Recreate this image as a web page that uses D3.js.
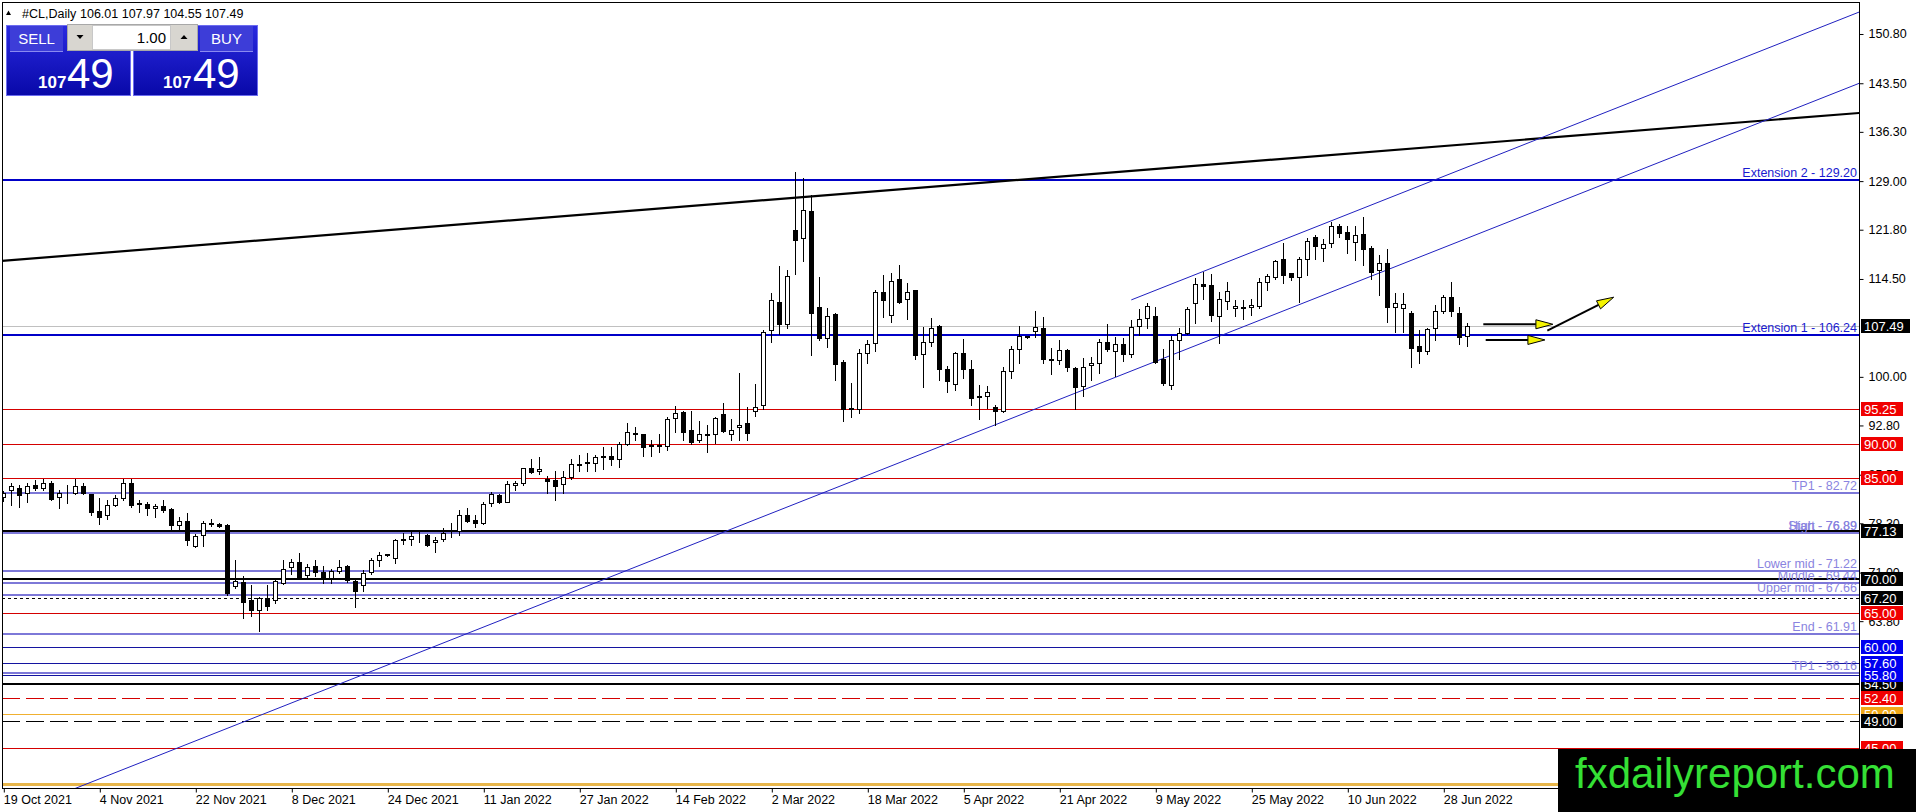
<!DOCTYPE html>
<html>
<head>
<meta charset="utf-8">
<script src="https://cdn.jsdelivr.net/npm/d3@7"></script>
<style>
  body { margin: 0; background: #fff; overflow: hidden; }
  svg { display: block; }
  text { font-family: "Liberation Sans", Arial, sans-serif; }
</style>
</head>
<body>
<svg width="1916" height="812"></svg>
<script>
// daily bars, 19 Oct 2021 .. 1 Jul 2022 (bar index = position)
var opens = [82.16,83.25,83.5,82.85,84.0,83.6,84.3,82.2,82.9,82.85,83.84,82.65,80.1,79.5,81.0,82.0,84.3,81.3,81.2,80.5,
  80.9,80.4,78.1,78.6,74.9,76.6,78.2,78.2,78.1,69.0,69.6,67.0,65.4,67.3,66.9,69.5,71.8,72.5,70.65,72.0,
  71.1,70.2,71.3,71.9,69.8,69.2,71.1,72.9,73.6,73.1,75.8,75.9,76.5,76.6,75.6,75.9,76.8,77.1,79.5,78.8,
  78.3,81.3,82.5,81.5,84.0,84.2,86.45,86.06,84.8,84.7,84.1,85.1,87.0,87.2,87.3,88.3,88.3,87.9,90.06,91.7,
  91.5,89.9,89.7,89.8,93.9,94.85,92.1,90.65,91.4,91.6,94.5,91.6,92.6,93.1,95.0,95.9,107.0,111.15,107.9,121.8,
  120.5,124.6,110.4,105.8,109.3,102.2,95.3,95.2,103.5,105.0,112.6,109.2,114.45,111.6,112.8,103.4,105.2,107.5,101.1,99.0,
  103.6,101.1,97.2,97.1,95.5,95.0,100.9,104.1,106.0,106.85,107.3,102.7,102.5,104.0,101.3,98.65,101.7,102.0,105.1,103.9,
  104.9,103.4,107.5,108.7,109.0,102.6,98.8,105.4,106.55,110.9,113.7,113.6,109.0,111.2,110.2,110.3,110.3,110.5,114.1,114.85,
  117.4,115.35,114.75,117.4,120.7,119.05,119.8,122.4,121.4,120.0,121.2,119.05,115.8,116.9,110.3,110.2,109.5,104.5,103.9,107.2,
  109.8,111.8,109.5,106.01];
var highs = [83.15,84.24,84.0,84.2,84.7,84.9,84.5,83.2,84.0,84.9,84.2,82.7,82.0,81.8,82.5,84.9,84.9,81.8,81.4,81.2,
  81.8,80.5,79.3,79.8,76.7,78.6,79.0,78.3,78.2,72.9,70.5,69.2,67.4,69.2,69.9,72.9,72.97,73.9,72.3,72.9,
  71.9,71.5,72.9,72.1,70.1,71.4,73.1,74.0,73.8,75.9,76.9,77.3,77.3,76.7,76.3,77.6,78.4,80.2,80.5,79.5,
  81.5,83.0,82.7,84.5,84.6,86.5,87.8,88.1,85.3,86.1,86.0,87.8,88.4,88.7,88.4,89.6,89.6,90.4,93.2,92.5,
  91.6,90.6,91.6,94.1,95.7,95.0,95.0,93.4,92.9,94.0,96.1,93.7,100.5,95.6,98.9,106.9,112.4,116.4,115.9,130.4,
  129.4,126.9,114.8,110.2,109.4,102.5,99.1,104.1,105.5,112.9,115.1,115.4,116.6,113.9,112.9,107.4,108.7,107.7,101.6,103.7,
  105.6,102.5,98.8,98.7,95.8,101.4,104.5,107.5,106.1,109.8,108.9,104.2,105.4,104.1,101.5,102.75,103.0,105.6,107.9,105.9,
  105.7,108.4,110.0,111.0,110.4,104.1,106.1,107.2,110.4,114.6,115.6,115.2,112.5,114.0,111.4,111.4,111.5,114.6,115.2,117.3,
  119.9,115.4,117.7,120.5,121.0,120.4,123.0,122.7,122.4,122.3,123.7,119.4,118.1,118.9,112.4,112.4,109.7,106.9,107.2,110.7,
  112.1,114.1,110.3,107.97];
var lows = [81.67,81.03,80.7,81.5,83.2,83.2,81.8,80.5,81.3,82.7,82.6,79.5,78.2,78.9,80.8,81.8,80.7,80.0,79.5,79.2,
  80.0,77.4,77.3,75.1,74.8,74.9,77.9,77.8,67.7,68.7,64.2,64.6,62.3,65.4,66.5,69.3,70.8,70.3,70.0,70.5,
  69.5,69.5,70.9,69.66,65.9,68.3,70.8,72.0,73.5,72.4,75.3,75.1,75.6,74.9,74.1,75.7,76.3,76.6,78.5,77.7,
  78.2,80.9,81.3,81.4,83.3,84.0,85.7,85.6,82.8,81.7,82.75,84.8,86.0,86.0,86.1,86.3,86.9,86.6,89.9,90.6,
  88.3,88.2,88.9,89.1,91.9,90.6,90.05,90.3,88.8,90.2,91.9,90.6,90.6,90.6,94.2,95.3,105.1,106.4,107.2,115.3,
  117.1,103.2,105.5,104.4,99.5,93.4,94.1,94.6,102.1,103.9,108.8,108.2,111.0,108.5,102.7,98.5,104.6,99.5,97.7,98.0,
  99.8,95.8,93.7,95.4,92.9,94.85,99.8,102.0,105.8,105.9,102.0,100.4,101.9,100.9,95.2,97.1,99.6,100.6,103.9,100.1,
  102.3,103.0,106.2,107.2,102.0,98.8,98.2,102.6,106.35,108.0,111.6,108.3,105.0,110.1,109.0,108.5,109.2,110.2,112.9,114.5,
  113.9,114.4,111.1,115.1,117.4,117.1,119.2,120.7,118.3,117.3,116.6,114.5,112.1,108.2,106.6,106.7,101.4,102.1,103.4,105.5,
  109.5,109.0,104.9,104.55];
var closes = [82.76,83.84,82.5,83.84,83.6,84.3,81.9,82.85,83.0,83.84,82.75,80.0,79.2,81.0,82.0,84.3,81.0,81.1,80.5,80.9,
  80.3,78.1,78.7,75.8,76.4,78.3,78.4,77.9,68.0,69.8,66.7,65.5,67.2,66.0,69.8,71.6,72.6,70.4,71.8,71.1,
  70.0,71.3,71.8,69.9,68.3,71.0,72.9,73.6,73.7,75.8,75.9,76.4,76.6,75.1,75.8,76.8,76.9,79.5,78.7,78.3,
  81.2,82.6,81.5,84.1,84.2,86.45,85.96,86.35,84.6,83.8,85.1,87.05,87.1,87.4,88.1,88.1,87.8,90.06,91.8,91.5,
  89.6,89.7,89.9,93.7,94.7,91.9,90.4,91.5,91.6,93.9,92.0,92.1,92.9,91.7,95.6,106.7,111.4,107.9,115.0,120.3,
  124.7,109.4,105.7,109.0,101.9,95.2,95.4,103.6,104.9,112.5,111.4,114.2,111.1,112.5,103.2,105.1,107.3,101.1,99.4,103.5,
  101.1,96.8,97.0,97.7,95.0,100.8,104.1,106.1,105.9,107.4,102.6,102.5,104.0,101.5,98.5,101.5,102.0,105.1,104.1,104.9,
  103.4,107.4,108.5,110.5,102.25,99.15,105.5,106.45,110.0,113.8,113.5,109.2,111.5,112.7,110.5,110.2,110.6,114.1,114.95,117.1,
  115.1,114.75,117.4,120.2,119.4,119.7,122.4,121.3,120.4,121.0,118.9,115.6,116.9,110.3,110.9,110.8,104.2,103.9,107.1,109.7,
  111.8,109.7,105.9,107.49];

var dateLabels = ["19 Oct 2021","4 Nov 2021","22 Nov 2021","8 Dec 2021","24 Dec 2021","11 Jan 2022","27 Jan 2022",
  "14 Feb 2022","2 Mar 2022","18 Mar 2022","5 Apr 2022","21 Apr 2022","9 May 2022","25 May 2022","10 Jun 2022","28 Jun 2022"];
var dateLabelBars = [0,12,24,36,48,60,72,84,96,108,120,132,144,156,168,180];
// scale labels that are not covered by the price tags
var priceTicks = [150.80,143.50,136.30,129.00,121.80,114.50,100.00,92.80,85.50,78.30,71.00,63.80];

var extensionLevels = [129.20, 106.24];
var extensionNames = ["Extension 2 - 129.20", "Extension 1 - 106.24"];
var fiboLevels = [82.72, 76.89, 76.89, 71.22, 69.44, 67.66, 61.91, 56.16];
var fiboNames = ["TP1 - 82.72", "Start - 76.89", "High - 76.89", "Lower mid - 71.22", "Middle - 69.44",
  "Upper mid - 67.66", "End - 61.91", "TP1 - 56.16"];
var redLevels = [95.25, 90.00, 85.00, 65.00, 45.00];
var blackLevels = [77.13, 70.00, 54.50];
var blueLevels = [60.00, 57.60, 55.80];
var dottedLevels = [67.20];
var redDashLevels = [52.40];
var blackDashLevels = [49.00];
var orangeLevels = [50.00];
var orangeWideLevels = [39.70];
var lastPrice = 107.49;

// trend lines as [bar, price] anchors
var channelLow = [[124, 92.9], [232, 143.5]];
var channelHigh = [[141, 111.4], [232, 154.06]];
var bigTrend = [[0, 117.2], [232, 139.1]];
var arrowFrom = [[185, 107.79], [185.3, 105.47], [193, 106.85]];
var arrowTo = [[193.7, 107.79], [192.7, 105.47], [201.3, 111.8]];

var svg = d3.select("svg");
var plot = {left: 2, top: 2, right: 1859, bottom: 788};

var x = d3.scaleLinear().domain([0, 232]).range([3.3, 3.3 + 8 * 232]);
var y = d3.scaleLinear().domain([39.08, 155.54]).range([plot.bottom, plot.top]);
var px = function(i) { return Math.round(x(i)); };
var py = function(p) { return Math.round(y(p)); };

svg.append("defs").append("clipPath").attr("id", "plotclip")
  .append("rect").attr("x", plot.left).attr("y", plot.top)
  .attr("width", plot.right - plot.left).attr("height", plot.bottom - plot.top);

var chart = svg.append("g").attr("clip-path", "url(#plotclip)");

// horizontal levels
function hline(levels, color, width, dash) {
  chart.selectAll(null).data(levels).enter().append("line")
    .attr("x1", plot.left).attr("x2", plot.right)
    .attr("y1", function(d) { return py(d) + (width % 2 ? 0.5 : 0); })
    .attr("y2", function(d) { return py(d) + (width % 2 ? 0.5 : 0); })
    .attr("stroke", color).attr("stroke-width", width)
    .attr("stroke-dasharray", dash || null);
}
hline([lastPrice], "#c0c0c0", 1);
hline(orangeWideLevels, "#e8b64a", 3);
hline(redLevels, "#d40000", 1);
hline(orangeLevels, "#f0b030", 1);
hline(blackDashLevels, "#000", 1, "18,6");
hline(redDashLevels, "#d40000", 1, "18,6");
hline(blueLevels, "#1414a0", 1);
hline(dottedLevels, "#000", 1, "3,3");
hline(blackLevels, "#000", 2);
hline(fiboLevels, "#7d78d8", 2);
hline(extensionLevels, "#0000c8", 2);

// trend lines (extended through the plot)
function extend(a, t) {
  var k = (a[1][1] - a[0][1]) / (a[1][0] - a[0][0]);
  return [t, a[0][1] + k * (t - a[0][0])];
}
function trend(a, from, to, color, width) {
  var p0 = extend(a, from), p1 = extend(a, to);
  chart.append("line")
    .attr("x1", x(p0[0])).attr("y1", y(p0[1]))
    .attr("x2", x(p1[0])).attr("y2", y(p1[1]))
    .attr("stroke", color).attr("stroke-width", width);
}
trend(bigTrend, -5, 240, "#000", 2.2);
trend(channelLow, -20, 240, "#2020c0", 1);
trend(channelHigh, channelHigh[0][0], 240, "#2020c0", 1);

// candles
var bars = d3.range(opens.length);
var candles = chart.append("g").attr("shape-rendering", "crispEdges");
candles.selectAll(".wick").data(bars).enter().append("line")
  .attr("class", "wick")
  .attr("x1", function(i) { return px(i) + 0.5; })
  .attr("x2", function(i) { return px(i) + 0.5; })
  .attr("y1", function(i) { return py(highs[i]); })
  .attr("y2", function(i) { return py(lows[i]) + 1; })
  .attr("stroke", "#000");
candles.selectAll(".body").data(bars).enter().append("rect")
  .attr("class", "body")
  .attr("x", function(i) { return px(i) - 2 + 0.5; })
  .attr("width", 4)
  .attr("y", function(i) { return py(Math.max(opens[i], closes[i])) + 0.5; })
  .attr("height", function(i) { return Math.max(0, py(Math.min(opens[i], closes[i])) - py(Math.max(opens[i], closes[i]))); })
  .attr("fill", function(i) { return closes[i] >= opens[i] ? "#fff" : "#000"; })
  .attr("stroke", "#000");

// arrows
var arrows = chart.append("g");
arrowFrom.forEach(function(a, k) {
  var x0 = x(a[0]), y0 = y(a[1]), x1 = x(arrowTo[k][0]), y1 = y(arrowTo[k][1]);
  var dx = x1 - x0, dy = y1 - y0, len = Math.sqrt(dx * dx + dy * dy);
  var ux = dx / len, uy = dy / len, hl = 17, hw = 4.5;
  var bx = x1 - ux * hl, by = y1 - uy * hl;
  arrows.append("line").attr("x1", x0).attr("y1", y0).attr("x2", bx).attr("y2", by)
    .attr("stroke", "#000").attr("stroke-width", 2);
  arrows.append("path")
    .attr("d", "M" + x1 + "," + y1 + "L" + (bx - uy * hw) + "," + (by + ux * hw) +
      "L" + (bx + uy * hw) + "," + (by - ux * hw) + "Z")
    .attr("fill", "#f4f400").attr("stroke", "#000").attr("stroke-width", 1);
});

// level captions
function captions(levels, names, color) {
  chart.selectAll(null).data(levels).enter().append("text")
    .attr("x", plot.right - 2).attr("y", function(d) { return py(d) - 3; })
    .attr("text-anchor", "end").attr("font-size", "12.5px").attr("fill", color)
    .text(function(d, i) { return names[i]; });
}
captions(extensionLevels, extensionNames, "#1a1ad0");
captions(fiboLevels, fiboNames, "#8a84e0");

// frame
svg.append("rect").attr("x", plot.left + 0.5).attr("y", plot.top + 0.5)
  .attr("width", plot.right - plot.left).attr("height", plot.bottom - plot.top)
  .attr("fill", "none").attr("stroke", "#000");

// price axis
var yAxis = svg.append("g").attr("transform", "translate(" + (plot.right + 0.5) + ",0)")
  .call(d3.axisRight(y).tickValues(priceTicks).tickSize(4).tickPadding(5).tickFormat(d3.format(".2f")));
yAxis.select(".domain").remove();
yAxis.selectAll("text").attr("font-family", "Liberation Sans, Arial, sans-serif")
  .attr("font-size", "12.5px").attr("fill", "#000");

// time axis
var xAxis = svg.append("g").attr("transform", "translate(0," + (plot.bottom + 0.5) + ")")
  .call(d3.axisBottom(x).tickValues(dateLabelBars).tickSize(4).tickPadding(3)
    .tickFormat(function(d, i) { return dateLabels[i]; }));
xAxis.select(".domain").remove();
xAxis.selectAll(".tick line").attr("transform", "translate(0.5,0)");
xAxis.selectAll("text").attr("text-anchor", "start").attr("x", 0)
  .attr("font-family", "Liberation Sans, Arial, sans-serif").attr("font-size", "12.5px").attr("fill", "#000");

// price tags on the axis
var tagLevels = orangeWideLevels.concat(redLevels.slice(4), orangeLevels, blackDashLevels, redDashLevels,
  blackLevels.slice(2), blueLevels.slice(1, 2), blueLevels.slice(2), blueLevels.slice(0, 1), redLevels.slice(3, 4),
  dottedLevels, blackLevels.slice(0, 2), redLevels.slice(0, 3), [lastPrice]);
function tagColor(d) {
  if (redLevels.indexOf(d) >= 0 || redDashLevels.indexOf(d) >= 0) return "#f00000";
  if (blueLevels.indexOf(d) >= 0) return "#0000f0";
  if (orangeLevels.indexOf(d) >= 0 || orangeWideLevels.indexOf(d) >= 0) return "#f0a818";
  return "#000";
}
var tags = svg.append("g").selectAll("g").data(tagLevels).enter().append("g")
  .attr("transform", function(d) { return "translate(" + (plot.right + 2) + "," + py(d) + ")"; });
tags.append("rect").attr("x", 0).attr("y", -7).attr("height", 14)
  .attr("width", function(d) { return d.toFixed(2).length > 5 ? 49 : 42; })
  .attr("fill", tagColor);
tags.append("text").attr("x", 3).attr("y", 5).attr("font-size", "13px").attr("fill", "#fff")
  .text(function(d) { return d.toFixed(2); });

// header line
svg.append("path").attr("d", "M6,15L8.5,10.5L11,15Z").attr("fill", "#000");
svg.append("text").attr("x", 22).attr("y", 18).attr("font-size", "12.5px").text("#CL,Daily");
svg.append("text").attr("x", 80).attr("y", 18).attr("font-size", "12.5px")
  .text([opens, highs, lows, closes].map(function(s) { return s[s.length - 1].toFixed(2); }).join(" "));

// one-click trading panel
var grad = svg.select("defs").append("linearGradient").attr("id", "pbg")
  .attr("x1", 0).attr("y1", 0).attr("x2", 0).attr("y2", 1);
grad.append("stop").attr("offset", 0).attr("stop-color", "#2a2ae0");
grad.append("stop").attr("offset", 1).attr("stop-color", "#0808a8");
var panel = svg.append("g");
[6, 133].forEach(function(px0) {
  panel.append("rect").attr("x", px0 + 0.5).attr("y", 25.5).attr("width", 124).attr("height", 70)
    .attr("fill", "url(#pbg)").attr("stroke", "#6c6cf0");
});
[[10, "SELL"], [200, "BUY"]].forEach(function(b) {
  panel.append("rect").attr("x", b[0]).attr("y", 26).attr("width", 53).attr("height", 25).attr("fill", "#3d3dd8");
  panel.append("line").attr("x1", b[0]).attr("x2", b[0] + 53).attr("y1", 51.5).attr("y2", 51.5).attr("stroke", "#8a8af0");
  panel.append("text").attr("x", b[0] + 26.5).attr("y", 44).attr("text-anchor", "middle")
    .attr("font-size", "15px").attr("fill", "#fff").text(b[1]);
});
panel.append("rect").attr("x", 67.5).attr("y", 24.5).attr("width", 130).attr("height", 26)
  .attr("fill", "#d8d6d0").attr("stroke", "#a8a8a8");
panel.append("rect").attr("x", 92.5).attr("y", 25.5).attr("width", 78).attr("height", 24)
  .attr("fill", "#fff").attr("stroke", "#c8c8c8");
panel.append("path").attr("d", "M76.5,35L83.5,35L80,39Z").attr("fill", "#000");
panel.append("path").attr("d", "M180.5,39L187.5,39L184,35Z").attr("fill", "#000");
panel.append("text").attr("x", 166).attr("y", 43).attr("text-anchor", "end")
  .attr("font-size", "15px").text("1.00");
[[38, 67], [163, 193]].forEach(function(p) {
  var s = lastPrice.toFixed(2).split(".");
  panel.append("text").attr("x", p[0]).attr("y", 88).attr("font-size", "17px").attr("font-weight", "bold")
    .attr("fill", "#fff").text(s[0]);
  panel.append("text").attr("x", p[1]).attr("y", 88).attr("font-size", "42px")
    .attr("fill", "#fff").text(s[1]);
});

// watermark
svg.append("rect").attr("x", 1558).attr("y", 749).attr("width", 358).attr("height", 63).attr("fill", "#000");
svg.append("text").attr("x", 1575).attr("y", 788).attr("font-size", "42px").attr("fill", "#35e035")
  .text("fxdailyreport.com");
</script>
</body>
</html>
